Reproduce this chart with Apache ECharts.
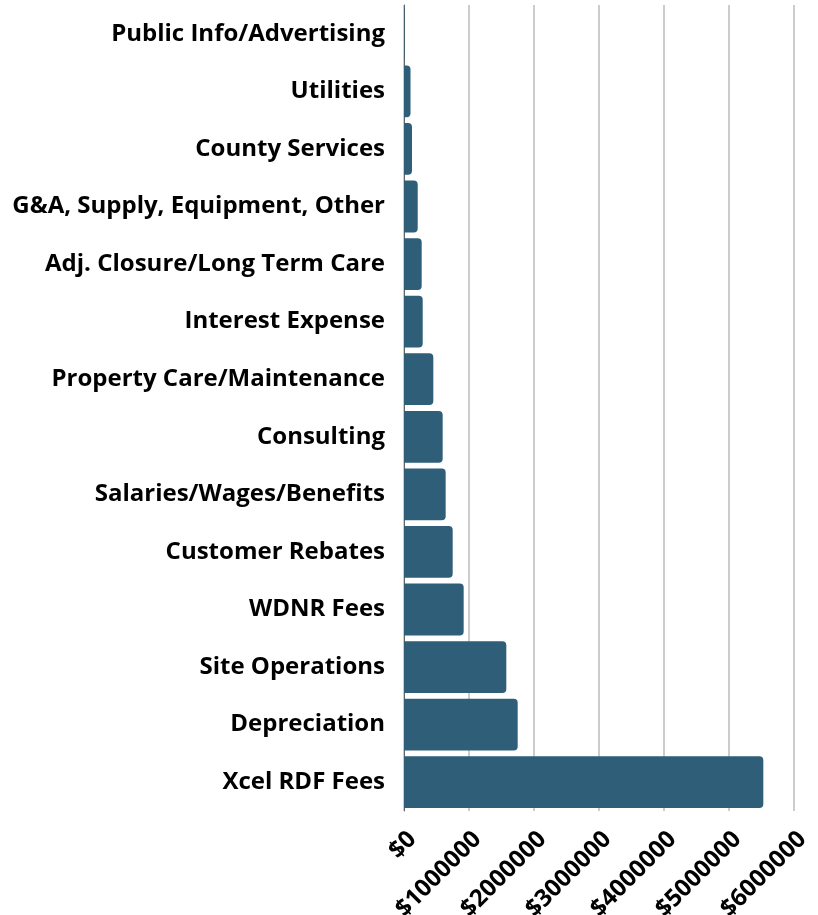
<!DOCTYPE html>
<html>
<head>
<meta charset="utf-8">
<script src="https://cdn.jsdelivr.net/npm/echarts@6/dist/echarts.min.js"></script>
<style>
html,body{margin:0;padding:0;background:#fff;}
#chart{width:818px;height:915px;}
</style>
</head>
<body>
<div id="chart"></div>
<script>
const categories = [
  "Public Info/Advertising",
  "Utilities",
  "County Services",
  "G&A, Supply, Equipment, Other",
  "Adj. Closure/Long Term Care",
  "Interest Expense",
  "Property Care/Maintenance",
  "Consulting",
  "Salaries/Wages/Benefits",
  "Customer Rebates",
  "WDNR Fees",
  "Site Operations",
  "Depreciation",
  "Xcel RDF Fees"
];
const expenses = [
  10000, 100000, 123000, 211000, 272000, 288000, 451000,
  595000, 641000, 749000, 918000, 1574000, 1749000, 5528000
];
const tickMin = 0;
const tickMax = 6000000;
const tickStep = 1000000;

const chart = echarts.init(document.getElementById('chart'));
chart.setOption({
  animation: false,
  backgroundColor: '#ffffff',
  grid: { left: 404, right: 24, top: 5, bottom: 104, containLabel: false, outerBoundsMode: 'none' },
  xAxis: {
    type: 'value',
    min: tickMin, max: tickMax, interval: tickStep,
    axisLine: { show: false },
    axisTick: { show: false },
    splitLine: { show: true, lineStyle: { color: '#cccccc', width: 2 } },
    axisLabel: {
      rotate: 45,
      margin: 16,
      verticalAlign: 'top',
      fontFamily: 'Open Sans',
      fontWeight: 'bold',
      fontSize: 24,
      color: '#000',
      hideOverlap: false,
      formatter: v => '$' + v
    }
  },
  yAxis: {
    type: 'category',
    inverse: true,
    data: categories,
    axisLine: { show: true, lineStyle: { color: '#666', width: 1 } },
    axisTick: { show: false },
    axisLabel: {
      margin: 19,
      fontFamily: 'Open Sans',
      fontWeight: 'bold',
      fontSize: 24,
      color: '#000'
    }
  },
  series: [{
    type: 'bar',
    data: expenses,
    barCategoryGap: '10%',
    itemStyle: { color: '#2f5f78', borderRadius: [0, 4, 4, 0] }
  }]
});
</script>
</body>
</html>
